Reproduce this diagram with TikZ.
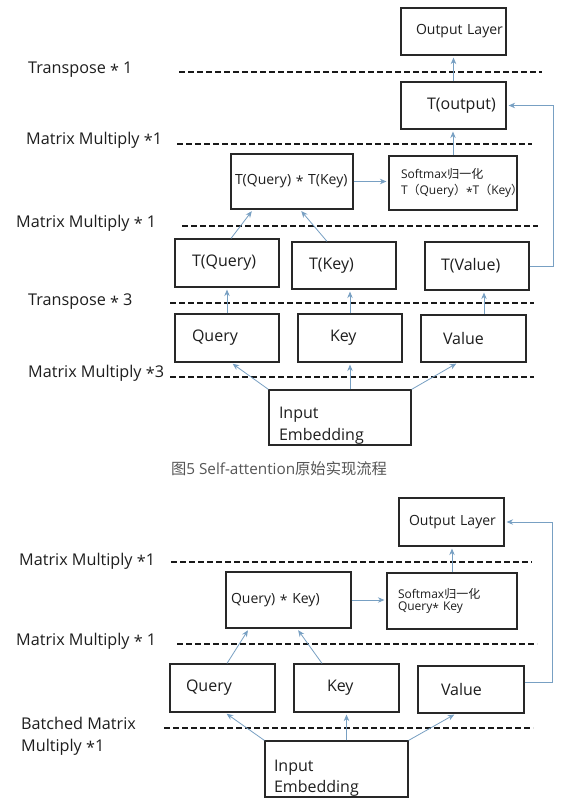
\documentclass[tikz,border=0pt]{standalone}
\usepackage{fontspec}
\setmainfont{Open Sans}
\newfontfamily\cjk{Noto Sans CJK SC}
\usetikzlibrary{arrows.meta}
\definecolor{txt}{RGB}{30,30,30}
\definecolor{boxc}{RGB}{40,40,40}
\definecolor{arrc}{RGB}{120,160,195}
\definecolor{capc}{RGB}{85,85,85}
\newcommand\bxl[2]{\hspace*{#1pt}\mbox{#2}}
\newcommand\st{\raisebox{-0.15em}{*}}
\begin{document}
\begin{tikzpicture}[x=1pt,y=-1pt,
  box/.style={draw=boxc, line width=1.2pt, inner xsep=0pt, inner ysep=0pt, align=left, text=txt},
  fb/.style={font=\fontsize{16}{20}\selectfont},
  fm/.style={font=\fontsize{14}{18}\selectfont},
  lbl/.style={anchor=west, inner sep=0pt, align=left, text=txt, font=\fontsize{16.2}{22}\selectfont},
  arr/.style={draw=arrc, line width=0.8pt, -{Stealth[length=6.5pt,width=5.5pt]}, shorten >=2pt},
  sep/.style={draw=black!90, line width=1.1pt, dash pattern=on 5.5pt off 3.5pt}]

\fill[white] (0,0) rectangle (567,809);
\useasboundingbox (0,0) rectangle (567,809);

% separators
\draw[sep] (179,72) -- (542,72);
\draw[sep] (177,144) -- (532,144);
\draw[sep] (182,226) -- (538,226);
\draw[sep] (170,303) -- (534,303);
\draw[sep] (170,377) -- (534,377);
\draw[sep] (171,562) -- (532,562);
\draw[sep] (177,644) -- (537,644);
\draw[sep] (164,728) -- (533,728);

% labels
\node[lbl] (l1) at (28,70) {Transpose \st{} 1};
\node[lbl] (l2) at (26,140) {Matrix Multiply \st1};
\node[lbl] (l3) at (16,223) {Matrix Multiply \st{} 1};
\node[lbl] (l4) at (28,302) {Transpose \st{} 3};
\node[lbl] (l5) at (28,373) {Matrix Multiply \st3};
\node[lbl] (l6) at (19,561) {Matrix Multiply \st1};
\node[lbl] (l7) at (16,641) {Matrix Multiply \st{} 1};
\node[lbl] (l8) at (21,736) {Batched Matrix\\Multiply \st1};

% top diagram
\node[box, fm, text width=105pt, minimum height=47pt] (out1) at (453.5,31.5) {\bxl{15}{Output Layer}};
\node[box, fb, text width=105pt, minimum height=47pt] (tout) at (453.5,105.5) {\bxl{26}{T(output)}};
\node[box, fm, text width=122pt, minimum height=55pt] (qk1) at (292,181.5) {\bxl{4}{T(Query) \st{} T(Key)}};
\node[box, font=\fontsize{12}{16}\selectfont, text width=128pt, minimum height=54pt] (sm1) at (453,183)
  {\bxl{12}{Softmax{\cjk 归一化}}\\\bxl{12}{T{\cjk （}Query{\cjk ）}\st T{\cjk （}Key{\cjk ）}}};
\node[box, fb, text width=104pt, minimum height=48pt] (tq) at (227,263) {\bxl{17}{T(Query)}};
\node[box, fb, text width=104pt, minimum height=47pt] (tk) at (344,265.5) {\bxl{17}{T(Key)}};
\node[box, fb, text width=104pt, minimum height=48pt] (tv) at (477,266) {\bxl{16}{T(Value)}};
\node[box, fb, text width=104pt, minimum height=48pt] (q1) at (227,338) {\bxl{17}{Query}};
\node[box, fb, text width=104pt, minimum height=48pt] (k1) at (350,338) {\bxl{32}{Key}};
\node[box, fb, text width=105pt, minimum height=47pt] (v1) at (473.5,338.5) {\bxl{22}{Value}};
\node[box, font=\fontsize{16}{22}\selectfont, text width=142pt, minimum height=55pt] (emb1) at (340,417.5)
  {\bxl{10}{\rule{0pt}{28.5pt}Input}\\\bxl{10}{Embedding}};

\node[font=\fontsize{15.3}{18}\selectfont, text=capc] (cap) at (279,469)
  {{\cjk 图}5 Self-attention{\cjk 原始实现流程}};

% top connectors
\draw[arr] (q1.north) -- (tq.south);
\draw[arr] (k1.north) -- (k1.north |- tk.south);
\draw[arr] ([xshift=10.5pt]v1.north) -- ([xshift=10.5pt]v1.north |- tv.south);
\draw[arr] ([xshift=4pt]tq.north) -- ([xshift=-39pt]qk1.south);
\draw[arr] ([xshift=-17pt]tk.north) -- ([xshift=8pt]qk1.south);
\draw[arr] (qk1.east) -- (qk1.east -| sm1.west);
\draw[arr] (sm1.north) -- (sm1.north |- tout.south);
\draw[arr] (tout.north) -- (tout.north |- out1.south);
\draw[arr] (tv.east) -- ++(24,0) |- (tout.east);
\draw[arr] (emb1.north west) -- ([xshift=4pt]q1.south);
\draw[arr] (k1.south |- emb1.north) -- (k1.south);
\draw[arr] (emb1.north east) -- ([xshift=-15.5pt]v1.south);

% bottom diagram
\node[box, fm, text width=105pt, minimum height=48pt] (out2) at (451.5,522) {\bxl{10}{Output Layer}};
\node[box, fm, text width=125pt, minimum height=56pt] (qk2) at (288.5,600) {\bxl{5}{Query) \st{} Key)}};
\node[box, font=\fontsize{12}{12.5}\selectfont, text width=130pt, minimum height=56pt] (sm2) at (452,601)
  {\bxl{11}{Softmax{\cjk 归一化}}\\\bxl{11}{Query\st{} Key}};
\node[box, fb, text width=105pt, minimum height=48pt] (q2) at (222.5,688) {\bxl{16}{Query}};
\node[box, fb, text width=105pt, minimum height=48pt] (k2) at (346.5,688) {\bxl{33}{Key}};
\node[box, fb, text width=106pt, minimum height=47pt] (v2) at (471,689.5) {\bxl{23}{Value}};
\node[box, font=\fontsize{16}{21}\selectfont, text width=143pt, minimum height=56pt] (emb2) at (336.5,769)
  {\bxl{9}{\rule{0pt}{29.5pt}Input}\\\bxl{9}{Embedding}};

% bottom connectors
\draw[arr] (sm2.north) -- (sm2.north |- out2.south);
\draw[arr] (qk2.east) -- (qk2.east -| sm2.west);
\draw[arr] ([xshift=4.5pt]q2.north) -- ([xshift=-39.5pt]qk2.south);
\draw[arr] ([xshift=-24.5pt]k2.north) -- ([xshift=8.5pt]qk2.south);
\draw[arr] ([yshift=7.5pt]v2.east) -- ++(28,0) |- (out2.east);
\draw[arr] (emb2.north west) -- ([xshift=2.5pt]q2.south);
\draw[arr] (k2.south |- emb2.north) -- (k2.south);
\draw[arr] (emb2.north east) -- ([xshift=-15pt]v2.south);
\end{tikzpicture}
\end{document}
